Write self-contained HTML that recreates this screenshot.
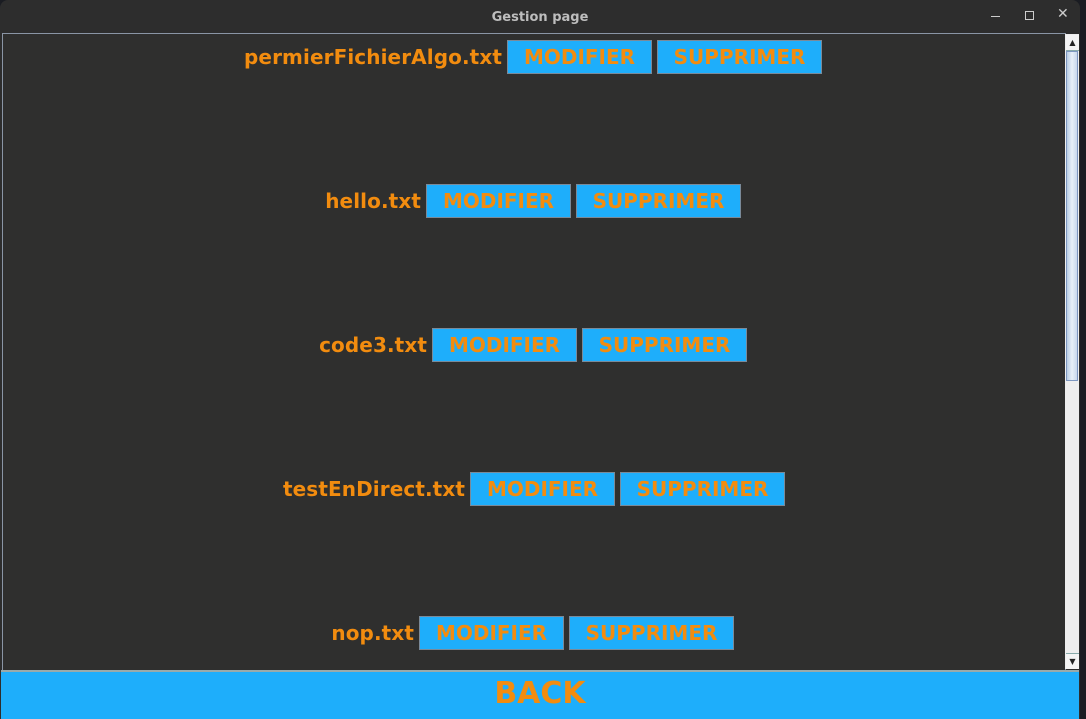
<!DOCTYPE html>
<html><head><style>
body{margin:0;width:1086px;height:719px;background:#1a1c22;position:relative;overflow:hidden;font-family:"DejaVu Sans","Liberation Sans",sans-serif;font-weight:bold}
.win{position:absolute;left:0;top:0;width:1080px;height:719px;background:#2d2d2d;border-radius:8px 8px 0 0}
.title{position:absolute;left:0;top:2px;width:1080px;height:33px;text-align:center;line-height:32px;color:#bdbdbd;font-size:13px}
.content{position:absolute;left:2px;top:33px;width:1062px;height:636px;border:1px solid #8a95a5;background:#2f2f2e}
.lbl{position:absolute;color:#f28c0f;font-size:20px;text-align:right;width:400px;height:34px;line-height:34px;letter-spacing:0.1px}
.btn{position:absolute;background:#1eaefb;border:1px solid #7a8a99;color:#f28c0f;font-size:20px;text-align:center;line-height:32px;box-sizing:border-box;height:34px}
.sb{position:absolute;left:1065px;top:34px;width:14px;height:635px;background:#eeeeee}
.thumb{position:absolute;left:1066px;top:51px;width:12px;height:330px;background:linear-gradient(90deg,#b8cce4,#e8f0f8,#c8d8ec);border:1px solid #7d97c0;box-sizing:border-box}
.back{position:absolute;left:1px;top:670px;width:1078px;height:47px;background:#1eaefb;border-top:2px solid #9aa;color:#f28c0f;font-size:30px;text-align:center;line-height:44px}
</style></head><body>
<div class="win">
<div class="title">Gestion page</div>
<div style="position:absolute;left:991px;top:16px;width:9px;height:1px;background:#ccc"></div>
<div style="position:absolute;left:1025px;top:11px;width:7px;height:7px;border:1px solid #ccc"></div>
<div style="position:absolute;left:1057px;top:6px;color:#ccc;font-size:14px;font-weight:normal">✕</div>
<div class="content"></div>
<div class="sb"></div>
<div class="thumb"></div>
<div style="position:absolute;left:1066px;top:35px;width:13px;height:15px;background:#f4f4f4;border-bottom:1px solid #8aa;font-size:8px;text-align:center;line-height:15px;color:#222">▲</div>
<div style="position:absolute;left:1066px;top:653px;width:13px;height:15px;background:#f4f4f4;border-top:1px solid #8aa;font-size:8px;text-align:center;line-height:15px;color:#222">▼</div>

<div class="lbl" style="left:102px;top:40px">permierFichierAlgo.txt</div>
<div class="btn" style="left:507px;top:40px;width:145px">MODIFIER</div>
<div class="btn" style="left:657px;top:40px;width:165px">SUPPRIMER</div>

<div class="lbl" style="left:21px;top:184px">hello.txt</div>
<div class="btn" style="left:426px;top:184px;width:145px">MODIFIER</div>
<div class="btn" style="left:576px;top:184px;width:165px">SUPPRIMER</div>

<div class="lbl" style="left:27px;top:328px">code3.txt</div>
<div class="btn" style="left:432px;top:328px;width:145px">MODIFIER</div>
<div class="btn" style="left:582px;top:328px;width:165px">SUPPRIMER</div>

<div class="lbl" style="left:65px;top:472px">testEnDirect.txt</div>
<div class="btn" style="left:470px;top:472px;width:145px">MODIFIER</div>
<div class="btn" style="left:620px;top:472px;width:165px">SUPPRIMER</div>

<div class="lbl" style="left:14px;top:616px">nop.txt</div>
<div class="btn" style="left:419px;top:616px;width:145px">MODIFIER</div>
<div class="btn" style="left:569px;top:616px;width:165px">SUPPRIMER</div>

<div class="back">BACK</div>
</div>
</body></html>
